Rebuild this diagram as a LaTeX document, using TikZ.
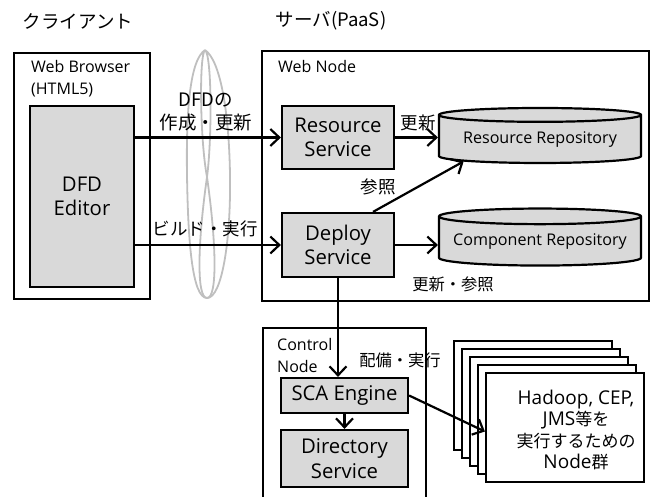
\documentclass[tikz,border=0pt]{standalone}
\usepackage{fontspec}
\setmainfont{Open Sans}
\newfontfamily\jp{Noto Sans CJK JP}
\usetikzlibrary{shapes.geometric, arrows.meta, positioning, calc}

\begin{document}
\begin{tikzpicture}[
    x=1pt, y=-1pt,
    frame/.style={draw, line width=2.2pt, anchor=north west},
    box/.style={draw, line width=2.2pt, fill=gray!30, align=center, inner sep=0pt, font=\fontsize{20.3}{24.5}\selectfont},
    repo/.style={cylinder, shape border rotate=90, draw, line width=2.2pt, fill=gray!30, aspect=0.09, minimum width=202pt, minimum height=55pt, inner sep=0pt, font=\fontsize{16.1}{18}\selectfont},
    stackbox/.style={draw, line width=2.2pt, fill=white, minimum width=158pt, minimum height=109pt, inner sep=0pt},
    arr/.style={-{Straight Barb[length=9pt, width=17pt]}, line width=2.2pt},
    lbl/.style={font=\jp\fontsize{17.5}{23}\selectfont, align=center, inner sep=0pt},
    small/.style={font=\fontsize{16}{22}\selectfont, align=left, inner sep=0pt, anchor=north west},
    title/.style={font=\jp\fontsize{18.5}{22}\selectfont, inner sep=0pt},
    cable/.style={draw=gray!50, line width=1.8pt},
]
    \useasboundingbox (0,0) rectangle (652,497);

    \node[title] (tclient) at (78,21) {クライアント};
    \node[title] (tserver) at (331,21) {サーバ(PaaS)};

    \draw[cable] (205,50) .. controls (190,60) and (186,110) .. (187,175) .. controls (188,240) and (192,298) .. (207,298) .. controls (218,298) and (216,240) .. (207,177) .. controls (200,140) and (199,55) .. (205,50);
    \draw[cable] (205,50) .. controls (220,60) and (229,110) .. (230,175) .. controls (231,240) and (222,298) .. (207,298) .. controls (196,298) and (198,240) .. (207,177) .. controls (212,140) and (212,55) .. (205,50);

    \node[frame, minimum width=136pt, minimum height=246pt] (browser) at (13,52) {};
    \node[small] (browserlbl) at (31,60) {Web Browser\\(HTML5)};
    \node[box, minimum width=104pt, minimum height=181pt] (editor) at (82,196.5) {DFD\\Editor};

    \node[frame, minimum width=387pt, minimum height=250pt] (webnode) at (261,50) {};
    \node[small] (webnodelbl) at (278,60) {Web Node};
    \node[box, minimum width=112pt, minimum height=63pt] (rsvc) at (338,137.5) {Resource\\Service};
    \node[box, minimum width=112pt, minimum height=64pt] (dsvc) at (338,245) {Deploy\\Service};
    \node[repo] (rrepo) at (540,139.5) {Resource Repository};
    \node[repo, minimum height=57pt] (crepo) at (540,241.5) {Component Repository};

    \node[frame, minimum width=163pt, minimum height=200pt] (ctrl) at (262,327) {};
    \node[small] (ctrllbl) at (277,338) {Control\\Node};
    \node[box, minimum width=127pt, minimum height=35pt] (sca) at (344.5,395.5) {SCA Engine};
    \node[box, minimum width=127pt, minimum height=57pt] (dir) at (344.5,458.5) {Directory\\Service};

    \foreach \k in {4,3,2,1}
        \node[stackbox] (stack\k) at ({565-8*\k},{427.5-8*\k}) {};
    \node[stackbox] (workers) at (565,427.5) {};
    \node[align=center, inner sep=0pt, font=\fontsize{19}{21.5}\selectfont] (workerstxt) at (576,430) {Hadoop, CEP,\\JMS{\jp\fontsize{17}{21.5}\selectfont 等を}\\{\jp\fontsize{17}{21.5}\selectfont 実行するための}\\Node{\jp\fontsize{17}{21.5}\selectfont 群}};

    \draw[arr] (rsvc.west -| editor.east) -- (rsvc.west);
    \draw[arr] (dsvc.west -| editor.east) -- (dsvc.west);
    \draw[arr] (rsvc.east) -- (rsvc.east -| rrepo.west);
    \draw[arr] ([xshift=35pt]dsvc.north) -- (rrepo.196);
    \draw[arr] (dsvc.east) -- (dsvc.east -| crepo.west);
    \draw[arr] (dsvc.south) -- (dsvc.south |- sca.north);
    \draw[arr] (sca) -- (dir);
    \draw[arr] (sca.east) -- ([yshift=-4pt]workers.west);

    \node[lbl, font=\jp\fontsize{18.5}{23}\selectfont] (lcreate) at (206,112.5) {DFDの\\作成・更新};
    \node[lbl] (lbuild) at (205,229) {ビルド・実行};
    \node[lbl] (lupdate) at (418,123) {更新};
    \node[lbl] (lref) at (378,187) {参照};
    \node[lbl, font=\jp\fontsize{16.3}{20}\selectfont] (lupref) at (453,284) {更新・参照};
    \node[lbl, font=\jp\fontsize{16.3}{20}\selectfont] (ldeploy) at (400,360) {配備・実行};
\end{tikzpicture}
\end{document}
